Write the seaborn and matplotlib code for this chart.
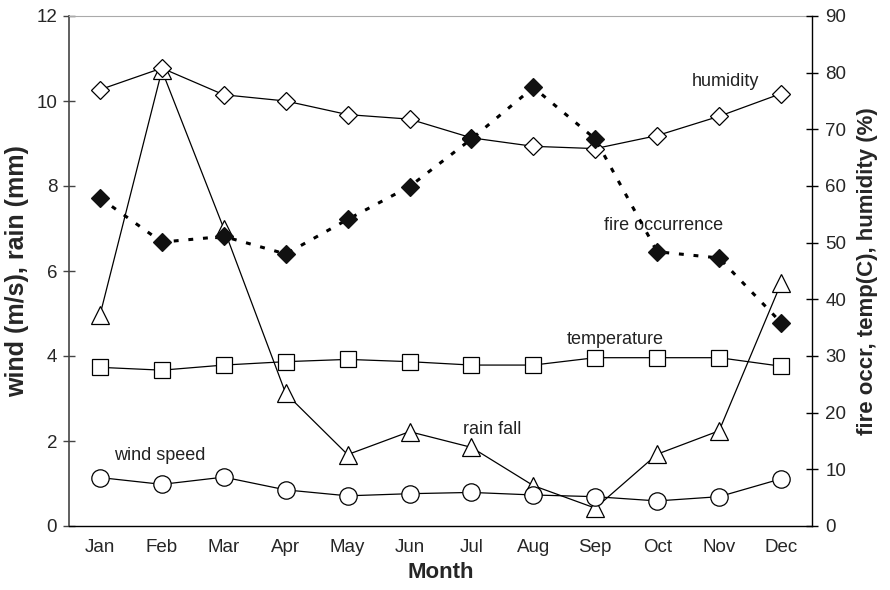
import numpy as np
import pandas as pd
import matplotlib
matplotlib.use("Agg")
import matplotlib.pyplot as plt
import seaborn as sns

months = ["Jan", "Feb", "Mar", "Apr", "May", "Jun", "Jul", "Aug", "Sep", "Oct", "Nov", "Dec"]
wind = [1.14, 0.98, 1.15, 0.85, 0.71, 0.76, 0.79, 0.73, 0.69, 0.59, 0.69, 1.11]
rain = [4.96, 10.72, 7.0, 3.12, 1.68, 2.22, 1.85, 0.95, 0.42, 1.69, 2.24, 5.71]
temperature = [28.0, 27.5, 28.4, 29.0, 29.4, 29.0, 28.4, 28.4, 29.7, 29.7, 29.7, 28.2]
humidity = [77.0, 80.8, 76.1, 75.0, 72.6, 71.8, 68.5, 67.0, 66.6, 68.9, 72.3, 76.3]
fire = [57.9, 50.1, 51.1, 48.0, 54.1, 59.9, 68.3, 77.4, 68.3, 48.4, 47.3, 35.9]

left_ticks = [0, 2, 4, 6, 8, 10, 12]
right_ticks = [0, 10, 20, 30, 40, 50, 60, 70, 80, 90]

sns.set_style("white")
plt.rcParams["font.family"] = ["Liberation Sans", "DejaVu Sans"]

df = pd.DataFrame({"pos": np.arange(len(months)), "month": months, "wind": wind,
                   "rain": rain, "temperature": temperature, "humidity": humidity,
                   "fire": fire})

fig = plt.figure(figsize=(8.9, 5.9), dpi=100)
ax = fig.add_axes([69 / 890, (590 - 526) / 590, (812 - 69) / 890, (526 - 16) / 590])
ax2 = ax.twinx()

common = dict(color="black", lw=0.9, mfc="white", mec="black", mew=0.9)
sns.lineplot(data=df, x="pos", y="rain", ax=ax, marker="^", ms=13, **common)
sns.lineplot(data=df, x="pos", y="wind", ax=ax, marker="o", ms=12.5, **common)
sns.lineplot(data=df, x="pos", y="temperature", ax=ax2, marker="s", ms=12, **common)
sns.lineplot(data=df, x="pos", y="humidity", ax=ax2, marker="D", ms=9, **common)
sns.lineplot(data=df, x="pos", y="fire", ax=ax2, marker="D", ms=9, color="black",
             lw=2.2, mfc="#111111", mec="#111111", mew=0.9)
ax2.lines[-1].set_linestyle((0, (1.6, 3.2)))
ax2.lines[-1].set_dash_capstyle("butt")

ax.set_xlim(-0.5, len(months) - 0.5)
ax.set_ylim(0, 12)
ax2.set_ylim(0, 90)

ax.set_xticks(np.arange(-0.5, len(months), 1.0))
ax.set_xticklabels([])
ax.set_xticks(np.arange(len(months)), minor=True)
ax.set_xticklabels(months, minor=True)
ax.tick_params(axis="x", which="major", direction="inout", length=9, width=1, color="black")
ax.tick_params(axis="x", which="minor", length=0, labelsize=13.5, pad=9)

ax.set_yticks(left_ticks)
ax.tick_params(axis="y", direction="inout", length=9, width=1, color="#444444",
               labelsize=13.5, pad=4, left=True)
ax2.set_yticks(right_ticks)
ax2.tick_params(axis="y", direction="inout", length=9, width=1, color="black",
                labelsize=13.5, pad=5, right=True)

ax.set_xlabel("Month", fontsize=16, fontweight="bold", labelpad=5)
ax.set_ylabel("wind (m/s), rain (mm)", fontsize=18, fontweight="bold", labelpad=5)
ax2.set_ylabel("fire occr, temp(C), humidity (%)", fontsize=16, fontweight="bold",
               labelpad=8)

for a in (ax, ax2):
    a.grid(False)
    a.set_facecolor("none")
ax.spines["top"].set_color("#aaaaaa")
ax.spines["top"].set_linewidth(0.8)
ax2.spines["top"].set_visible(False)
ax.spines["right"].set_visible(False)
ax2.spines["left"].set_visible(False)
ax2.spines["bottom"].set_visible(False)
ax.spines["left"].set_color("#444444")
ax.spines["left"].set_linewidth(1.2)
ax.spines["bottom"].set_color("black")
ax.spines["bottom"].set_linewidth(1.0)
ax2.spines["right"].set_color("black")
ax2.spines["right"].set_linewidth(1.0)

txt = dict(fontsize=13, ha="center", va="center", color="#222222")
ax.text(10.1, 10.45, "humidity", **txt)
ax.text(9.1, 7.07, "fire occurrence", **txt)
ax.text(8.33, 4.40, "temperature", **txt)
ax.text(6.34, 2.28, "rain fall", **txt)
ax.text(0.96, 1.65, "wind speed", **txt)

fig.savefig("out.png", dpi=100)
